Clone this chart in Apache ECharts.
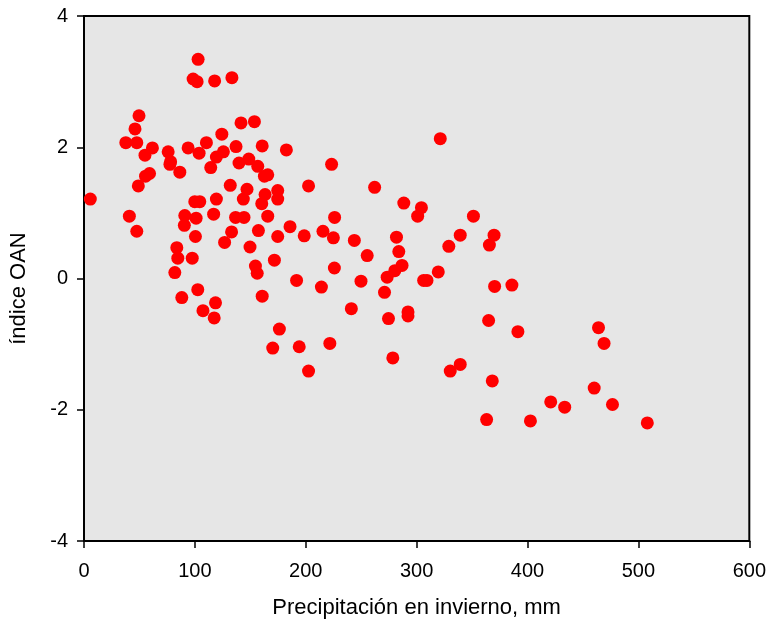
<!DOCTYPE html>
<html>
<head>
<meta charset="utf-8">
<script src="https://cdn.jsdelivr.net/npm/echarts@6/dist/echarts.min.js"></script>
<style>
  html, body { margin: 0; padding: 0; background: #ffffff; }
  #chart { width: 769px; height: 628px; }
</style>
</head>
<body>
<div id="chart"></div>
<script>
// Winter precipitation (mm) for each year
const precipitation = [
  5.7, 40.9, 47.6, 49.0, 49.6, 46.0, 37.7, 47.6, 61.7, 55.0,
  55.5, 59.1, 75.9, 78.1, 77.5, 86.4, 93.9, 103.8, 110.4, 124.3,
  114.3, 119.4, 125.7, 137.1, 141.6, 153.7, 139.8, 148.6, 131.9, 147.0,
  143.7, 160.7, 182.5, 156.7, 162.7, 165.7, 163.3, 160.3, 174.7, 174.7,
  202.5, 223.3, 99.9, 104.4, 119.4, 90.9, 90.5, 101.1, 116.9, 136.7,
  144.3, 165.7, 185.8, 226.0, 133.1, 157.3, 174.7, 198.6, 215.5, 224.9,
  100.5, 126.8, 149.7, 83.7, 84.6, 97.6, 81.9, 154.6, 156.2, 171.7,
  225.8, 191.7, 214.1, 88.2, 102.6, 107.3, 118.6, 117.4, 160.7, 176.2,
  170.2, 194.1, 221.7, 202.5, 98.4, 102.0, 102.9, 117.8, 133.4, 321.3,
  262.1, 288.4, 304.3, 300.9, 351.2, 243.8, 281.8, 283.9, 255.4, 339.3,
  329.0, 369.8, 365.6, 286.8, 280.3, 273.4, 271.0, 249.8, 306.3, 309.3,
  319.5, 370.3, 385.9, 241.1, 274.6, 292.2, 292.2, 364.9, 391.3, 464.0,
  469.0, 278.5, 330.3, 339.3, 368.2, 460.1, 476.6, 420.9, 433.5, 363.1,
  402.6, 508.0
];

// North Atlantic Oscillation index for the same years
const oanIndex = [
  1.21, 0.95, 0.72, 1.41, 2.48, 2.28, 2.07, 2.07, 1.99, 1.88,
  1.56, 1.60, 1.93, 1.78, 1.74, 1.62, 1.99, 1.91, 2.07, 2.20,
  1.69, 1.85, 1.93, 2.01, 2.37, 2.39, 1.76, 1.82, 1.42, 1.36,
  1.21, 2.02, 1.96, 1.71, 1.56, 1.58, 1.28, 1.14, 1.34, 1.21,
  1.41, 1.74, 1.17, 1.17, 1.21, 0.96, 0.81, 0.92, 0.98, 0.93,
  0.93, 0.95, 0.79, 0.93, 0.71, 0.73, 0.64, 0.65, 0.72, 0.62,
  0.64, 0.55, 0.48, 0.47, 0.31, 0.31, 0.09, 0.19, 0.08, 0.28,
  0.16, -0.03, -0.13, -0.29, -0.17, -0.49, -0.37, -0.60, -0.27, -0.77,
  -1.06, -1.04, -0.99, -1.41, 3.04, 3.00, 3.34, 3.01, 3.06, 2.13,
  1.39, 1.15, 1.08, 0.95, 0.95, 0.58, 0.63, 0.41, 0.35, 0.66,
  0.49, 0.66, 0.51, 0.20, 0.12, 0.02, -0.21, -0.04, -0.03, -0.03,
  0.10, -0.12, -0.10, -0.46, -0.61, -0.51, -0.57, -0.64, -0.81, -0.75,
  -0.99, -1.21, -1.41, -1.31, -1.56, -1.67, -1.92, -1.88, -1.96, -2.15,
  -2.17, -2.20
];

const xTicks = { min: 0, max: 600, step: 100 };
const yTicks = { min: -4, max: 4, step: 2 };

const points = precipitation.map((p, i) => [p, oanIndex[i]]);

const FONT = '"Liberation Sans", Arial, sans-serif';

const chart = echarts.init(document.getElementById('chart'), null, { renderer: 'canvas' });
chart.setOption({
  animation: false,
  backgroundColor: '#ffffff',
  grid: {
    left: 84, right: 17, top: 16, bottom: 87,
    show: true,
    backgroundColor: '#e6e6e6',
    borderColor: '#000000',
    borderWidth: 2
  },
  xAxis: {
    type: 'value',
    min: xTicks.min, max: xTicks.max, interval: xTicks.step,
    name: 'Precipitación en invierno, mm',
    nameLocation: 'middle',
    nameGap: 56,
    nameTextStyle: { color: '#000', fontSize: 22, fontFamily: FONT },
    axisLine: { show: true, onZero: false, lineStyle: { color: '#000', width: 2 } },
    axisTick: { show: true, inside: false, length: 7, lineStyle: { color: '#000', width: 1.5 } },
    axisLabel: { color: '#000', fontSize: 20, fontFamily: FONT, margin: 20 },
    splitLine: { show: false }
  },
  yAxis: {
    type: 'value',
    min: yTicks.min, max: yTicks.max, interval: yTicks.step,
    name: 'índice OAN',
    nameLocation: 'middle',
    nameGap: 54,
    nameRotate: 90,
    nameTextStyle: { color: '#000', fontSize: 22, fontFamily: FONT, padding: [0, 20, 0, 0] },
    axisLine: { show: true, onZero: false, lineStyle: { color: '#000', width: 2 } },
    axisTick: { show: true, inside: false, length: 7, lineStyle: { color: '#000', width: 1.5 } },
    axisLabel: { color: '#000', fontSize: 20, fontFamily: FONT, margin: 16 },
    splitLine: { show: false }
  },
  series: [{
    type: 'scatter',
    data: points,
    symbol: 'circle',
    symbolSize: 13,
    itemStyle: { color: '#ff0000', opacity: 1 }
  }]
});
</script>
</body>
</html>
